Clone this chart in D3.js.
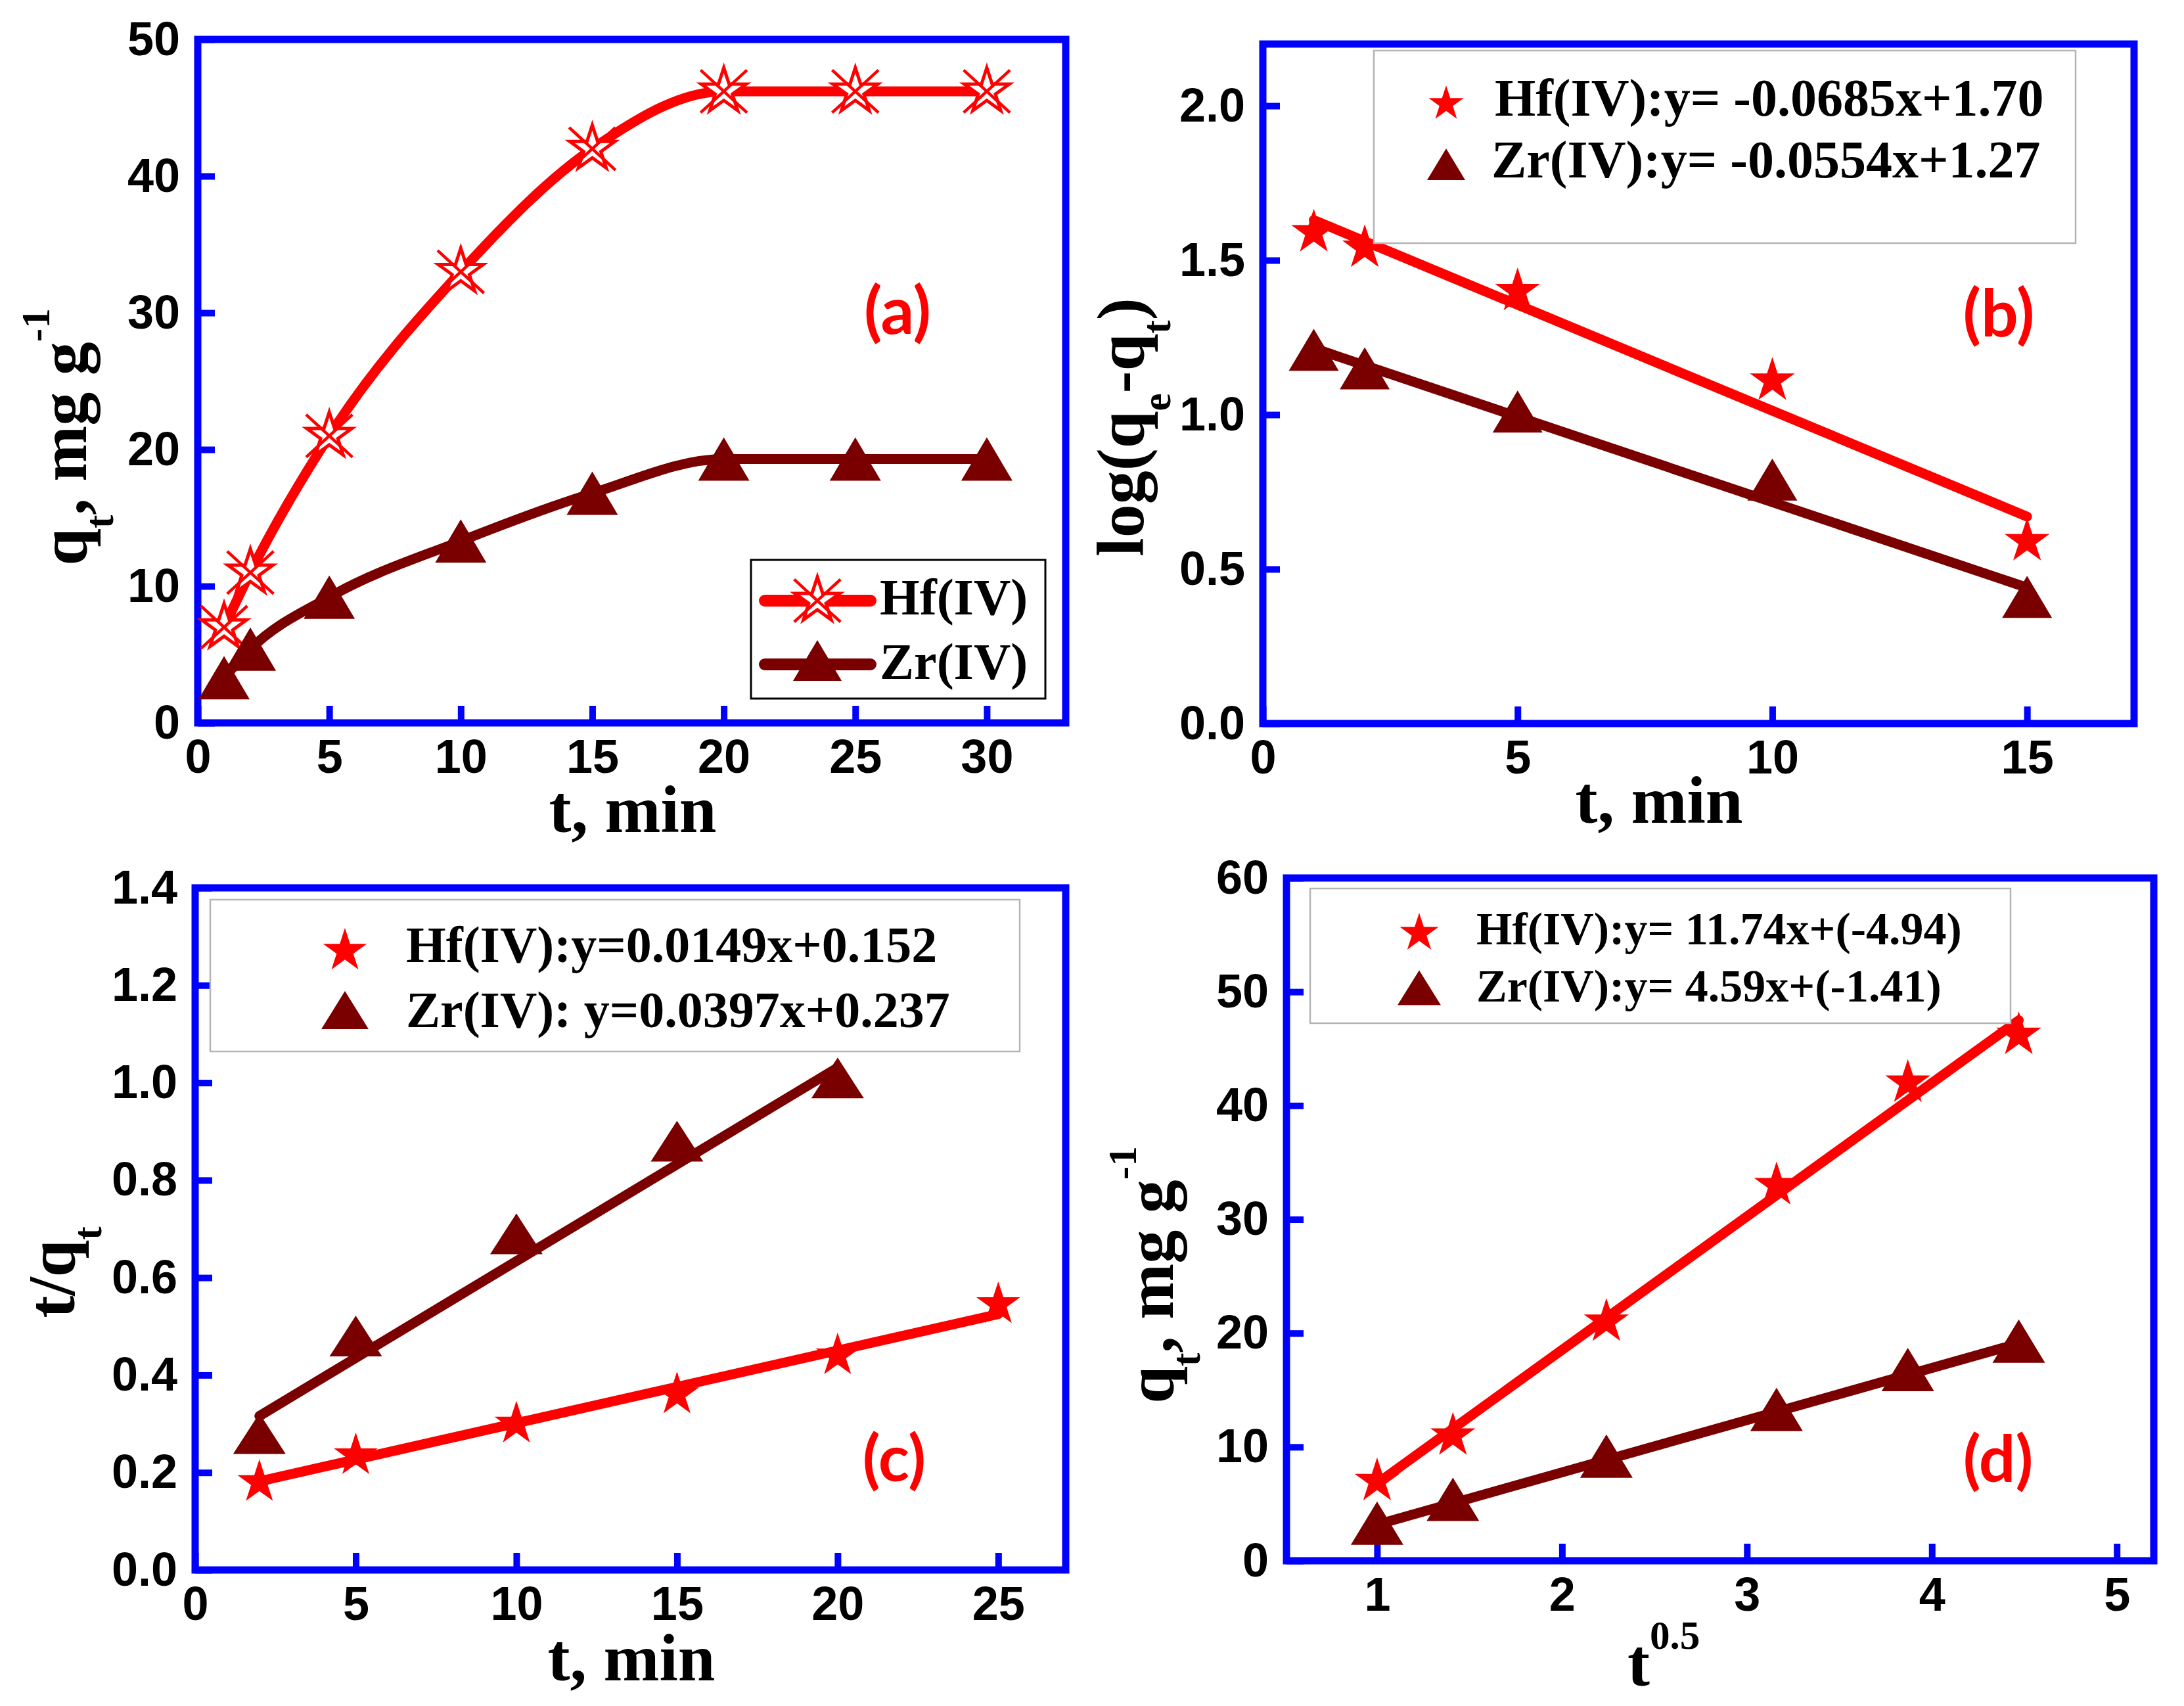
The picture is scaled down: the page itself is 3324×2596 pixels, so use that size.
<!DOCTYPE html>
<html><head><meta charset="utf-8">
<script src="https://cdn.jsdelivr.net/npm/d3@7"></script>
<style>html,body{margin:0;padding:0;background:#fff;overflow:hidden;} svg{display:block;}</style>
</head><body>
<svg id="chart" width="3324" height="2596" xmlns="http://www.w3.org/2000/svg"></svg>
<script>
// ================= DATA =================
const seriesNames = ["Hf(IV)", "Zr(IV)"];

// (a) q_t vs t
const timeA = [1, 2, 5, 10, 15, 20, 25, 30];
const hfQtA = [7, 11, 21, 33, 42, 46.2, 46.2, 46.2];
const zrQtA = [3.3, 5.4, 9.2, 13.3, 16.8, 19.3, 19.3, 19.3];

// (b) log(qe-qt) vs t
const timeB = [1, 2, 5, 10, 15];
const hfLogB = [1.59, 1.54, 1.40, 1.11, 0.59];
const zrLogB = [1.21, 1.15, 1.01, 0.79, 0.41];
const fitXB = [1, 15];
const hfFitYB = [1.63, 0.67];
const zrFitYB = [1.215, 0.44];
const legendB = ["Hf(IV):y= -0.0685x+1.70", "Zr(IV):y= -0.0554x+1.27"];

// (c) t/qt vs t
const hfTimeC = [2, 5, 10, 15, 20, 25];
const hfTqC = [0.18, 0.235, 0.30, 0.36, 0.44, 0.545];
const zrTimeC = [2, 5, 10, 15, 20];
const zrTqC = [0.28, 0.48, 0.69, 0.88, 1.01];
const hfFitXC = [2, 25];
const hfFitYC = [0.182, 0.525];
const zrFitXC = [2, 20];
const zrFitYC = [0.316, 1.031];
const legendC = ["Hf(IV):y=0.0149x+0.152", "Zr(IV): y=0.0397x+0.237"];

// (d) qt vs t^0.5
const sqrtTimeD = [1, 1.41, 2.24, 3.16, 3.87, 4.47];
const hfQtD = [7, 11, 21, 33, 42, 46.2];
const zrQtD = [3.3, 5.4, 9.2, 13.3, 16.8, 19.3];
const fitXD = [1, 4.47];
const hfFitYD = [6.8, 47.5];
const zrFitYD = [3.18, 19.1];
const legendD = ["Hf(IV):y= 11.74x+(-4.94)", "Zr(IV):y= 4.59x+(-1.41)"];

// tick values
const ticksAX = [0, 5, 10, 15, 20, 25, 30];
const ticksAY = [0, 10, 20, 30, 40, 50];
const ticksBX = [0, 5, 10, 15];
const ticksBY = [0, 0.5, 1.0, 1.5, 2.0];
const ticksCX = [0, 5, 10, 15, 20, 25];
const ticksCY = [0, 0.2, 0.4, 0.6, 0.8, 1.0, 1.2, 1.4];
const ticksDX = [1, 2, 3, 4, 5];
const ticksDY = [0, 10, 20, 30, 40, 50, 60];

// ================= STYLE =================
const RED = "#ff0000", MAROON = "#7a0000", BLUE = "#0000ff";
const SANS = "'Liberation Sans', Arial, sans-serif";
const SERIF = "'Liberation Serif', 'Times New Roman', serif";
const LABELFONT = "Lato, 'Open Sans', sans-serif";
const LW = 15;

const svg = d3.select("#chart");

function makePanel(p) {
  const x = d3.scaleLinear().domain(p.xDomain).range([p.left, p.right]);
  const y = d3.scaleLinear().domain(p.yDomain).range([p.bottom, p.top]);
  const g = svg.append("g");
  const ax = g.append("g").attr("transform", `translate(0,${p.bottom})`)
    .call(d3.axisBottom(x).tickValues(p.xTicks).tickFormat(p.xFmt).tickSize(-26).tickPadding(25));
  const ay = g.append("g").attr("transform", `translate(${p.left},0)`)
    .call(d3.axisLeft(y).tickValues(p.yTicks).tickFormat(p.yFmt).tickSize(-26).tickPadding(27));
  [ax, ay].forEach(a => {
    a.select(".domain").remove();
    a.selectAll(".tick line").attr("stroke", BLUE).attr("stroke-width", 10);
    a.selectAll(".tick text").attr("font-family", SANS).attr("font-weight", "bold")
      .attr("font-size", 72).attr("fill", "#000");
  });
  g.append("rect").attr("x", p.left).attr("y", p.top)
    .attr("width", p.right - p.left).attr("height", p.bottom - p.top)
    .attr("fill", "none").attr("stroke", BLUE).attr("stroke-width", 11);
  return { g, x, y };
}

// rich text: parts [[text, mode]] mode: "", "sub", "sup"
function richText(parent, parts, size, attrs) {
  const t = parent.append("text").attr("font-family", SERIF).attr("font-weight", "bold")
    .attr("font-size", size).attr("fill", "#000");
  Object.entries(attrs).forEach(([k, v]) => t.attr(k, v));
  let cur = 0;
  parts.forEach(([s, mode]) => {
    const target = mode === "sub" ? 0.40 * size : mode === "sup" ? -0.55 * size : 0;
    const ts = t.append("tspan").text(s).attr("dy", target - cur);
    if (mode) ts.attr("font-size", size * 0.6);
    cur = target;
  });
  return t;
}

const starSym = r => d3.symbol(d3.symbolStar, (r * r) / 0.8908130915292852)();
const triSym = (w, h) => `M0,${-h / 2}L${w / 2},${h / 2}L${-w / 2},${h / 2}Z`;

function drawStars(g, xs, ys, x, y, r, color) {
  g.append("g").selectAll("path").data(xs).join("path")
    .attr("d", starSym(r)).attr("fill", color)
    .attr("transform", (d, i) => `translate(${x(d)},${y(ys[i])})`);
}
function drawTris(g, xs, ys, x, y, w, h, color) {
  g.append("g").selectAll("path").data(xs).join("path")
    .attr("d", triSym(w, h)).attr("fill", color)
    .attr("transform", (d, i) => `translate(${x(d)},${y(ys[i])})`);
}
function hollowStar(sel, r, color) {
  sel.append("path").attr("d", starSym(r)).attr("fill", "#fff")
    .attr("stroke", color).attr("stroke-width", 5).attr("stroke-linejoin", "miter");
  const a = r * 0.98, b = r * 0.9;
  sel.append("path").attr("d", `M${-a},${-b}L${a},${b}M${a},${-b}L${-a},${b}`)
    .attr("stroke", color).attr("stroke-width", 4.5);
}
function drawLine(g, xs, ys, x, y, color, curve) {
  const line = d3.line().x(d => x(d[0])).y(d => y(d[1]));
  if (curve) line.curve(curve);
  g.append("path").datum(xs.map((d, i) => [d, ys[i]])).attr("d", line)
    .attr("fill", "none").attr("stroke", color).attr("stroke-width", LW)
    .attr("stroke-linejoin", "round").attr("stroke-linecap", "round");
}
function panelLabel(txt, cx, by, size) {
  svg.append("text").text(txt).attr("x", cx).attr("y", by).attr("text-anchor", "middle")
    .attr("font-family", LABELFONT).attr("font-weight", "bold").attr("font-size", size)
    .attr("fill", RED);
}
function eqLegend(box, rows, fs) {
  svg.append("rect").attr("x", box[0]).attr("y", box[1]).attr("width", box[2] - box[0])
    .attr("height", box[3] - box[1]).attr("fill", "#fff").attr("stroke", "#b4b4b4").attr("stroke-width", 2.5);
  rows.forEach(r => {
    const m = svg.append("path").attr("fill", r.color)
      .attr("transform", `translate(${r.mx},${r.my})`);
    m.attr("d", r.type === "star" ? starSym(r.size) : triSym(r.size, r.h));
    svg.append("text").text(r.text).attr("x", r.tx).attr("y", r.ty)
      .attr("font-family", SERIF).attr("font-weight", "bold").attr("font-size", fs).attr("fill", "#000");
  });
}

// ================= PANEL (a) =================
{
  const P = makePanel({ left: 301, right: 1622, top: 60, bottom: 1100, xDomain: [0, 33], yDomain: [0, 50],
    xTicks: ticksAX, yTicks: ticksAY, xFmt: d3.format("d"), yFmt: d3.format("d") });
  drawLine(P.g, timeA, hfQtA, P.x, P.y, RED, d3.curveMonotoneX);
  drawLine(P.g, timeA, zrQtA, P.x, P.y, MAROON, d3.curveMonotoneX);
  P.g.append("g").selectAll("g").data(timeA).join("g")
    .attr("transform", (d, i) => `translate(${P.x(d)},${P.y(hfQtA[i])})`)
    .each(function () { hollowStar(d3.select(this), 36, RED); });
  drawTris(P.g, timeA, zrQtA, P.x, P.y, 78, 66, MAROON);
  // legend
  P.g.append("rect").attr("x", 1143).attr("y", 852).attr("width", 448).attr("height", 211)
    .attr("fill", "#fff").attr("stroke", "#000").attr("stroke-width", 3);
  [[914, 935, RED], [1011, 1033, MAROON]].forEach(([ly, ty, col], i) => {
    P.g.append("line").attr("x1", 1164).attr("x2", 1325).attr("y1", ly).attr("y2", ly)
      .attr("stroke", col).attr("stroke-width", 18).attr("stroke-linecap", "round");
    const m = P.g.append("g").attr("transform", `translate(1244,${ly})`);
    if (i === 0) hollowStar(m, 36, RED);
    else m.append("path").attr("d", triSym(74, 62)).attr("fill", MAROON).attr("transform", "translate(0,-6)");
    P.g.append("text").text(seriesNames[i]).attr("x", 1339).attr("y", ty)
      .attr("font-family", SERIF).attr("font-weight", "bold").attr("font-size", 78).attr("fill", "#000");
  });
  richText(svg, [["t, min", ""]], 102, { x: 963, y: 1266, "text-anchor": "middle" });
  richText(svg, [["q", ""], ["t", "sub"], [", mg g", ""], ["-1", "sup"]], 102,
    { transform: "translate(131,665) rotate(-90)", "text-anchor": "middle" });
  panelLabel("(a)", 1366, 508, 100);
}

// ================= PANEL (b) =================
{
  const P = makePanel({ left: 1922, right: 3248, top: 67, bottom: 1101, xDomain: [0, 17.1], yDomain: [0, 2.2],
    xTicks: ticksBX, yTicks: ticksBY, xFmt: d3.format("d"), yFmt: d3.format(".1f") });
  eqLegend([2091, 77, 3159, 370], [
    { type: "star", color: RED, mx: 2201, my: 158, size: 28, tx: 2275, ty: 176, text: legendB[0] },
    { type: "tri", color: MAROON, mx: 2201, my: 250, size: 58, h: 48, tx: 2270, ty: 270, text: legendB[1] }
  ], 80);
  drawLine(P.g, fitXB, hfFitYB, P.x, P.y, RED);
  drawLine(P.g, fitXB, zrFitYB, P.x, P.y, MAROON);
  drawStars(P.g, timeB, hfLogB, P.x, P.y, 36, RED);
  drawTris(P.g, timeB, zrLogB, P.x, P.y, 76, 64, MAROON);
  richText(svg, [["t, min", ""]], 102, { x: 2525, y: 1252, "text-anchor": "middle" });
  richText(svg, [["log(q", ""], ["e", "sub"], ["-q", ""], ["t", "sub"], [")", ""]], 102,
    { transform: "translate(1740,650) rotate(-90)", "text-anchor": "middle" });
  panelLabel("(b)", 3042, 512, 100);
}

// ================= PANEL (c) =================
{
  const P = makePanel({ left: 297, right: 1622, top: 1351, bottom: 2389, xDomain: [0, 27.1], yDomain: [0, 1.4],
    xTicks: ticksCX, yTicks: ticksCY, xFmt: d3.format("d"), yFmt: d3.format(".1f") });
  eqLegend([320, 1369, 1552, 1600], [
    { type: "star", color: RED, mx: 525, my: 1447, size: 35, tx: 618, ty: 1464, text: legendC[0] },
    { type: "tri", color: MAROON, mx: 525, my: 1537, size: 72, h: 58, tx: 618, ty: 1563, text: legendC[1] }
  ], 78);
  drawLine(P.g, zrFitXC, zrFitYC, P.x, P.y, MAROON);
  drawLine(P.g, hfFitXC, hfFitYC, P.x, P.y, RED);
  drawTris(P.g, zrTimeC, zrTqC, P.x, P.y, 80, 62, MAROON);
  drawStars(P.g, hfTimeC, hfTqC, P.x, P.y, 35, RED);
  richText(svg, [["t, min", ""]], 102, { x: 961, y: 2557, "text-anchor": "middle" });
  richText(svg, [["t/q", ""], ["t", "sub"]], 102,
    { transform: "translate(113,1936) rotate(-90)", "text-anchor": "middle" });
  panelLabel("(c)", 1361, 2254, 98);
}

// ================= PANEL (d) =================
{
  const P = makePanel({ left: 1958, right: 3278, top: 1336, bottom: 2375, xDomain: [0.51, 5.2], yDomain: [0, 60],
    xTicks: ticksDX, yTicks: ticksDY, xFmt: d3.format("d"), yFmt: d3.format("d") });
  eqLegend([1994, 1352, 3060, 1557], [
    { type: "star", color: RED, mx: 2160, my: 1420, size: 31, tx: 2247, ty: 1437, text: legendD[0] },
    { type: "tri", color: MAROON, mx: 2160, my: 1503, size: 66, h: 53, tx: 2247, ty: 1524, text: legendD[1] }
  ], 70);
  drawLine(P.g, fitXD, hfFitYD, P.x, P.y, RED);
  drawLine(P.g, fitXD, zrFitYD, P.x, P.y, MAROON);
  drawStars(P.g, sqrtTimeD, hfQtD, P.x, P.y, 36, RED);
  drawTris(P.g, sqrtTimeD, zrQtD, P.x, P.y, 80, 66, MAROON);
  richText(svg, [["t", ""], ["0.5", "sup"]], 102, { x: 2477, y: 2565, "text-anchor": "start" });
  richText(svg, [["q", ""], ["t", "sub"], [", mg g", ""], ["-1", "sup"]], 102,
    { transform: "translate(1785,1940) rotate(-90)", "text-anchor": "middle" });
  panelLabel("(d)", 3041, 2255, 98);
}
</script>
</body></html>
